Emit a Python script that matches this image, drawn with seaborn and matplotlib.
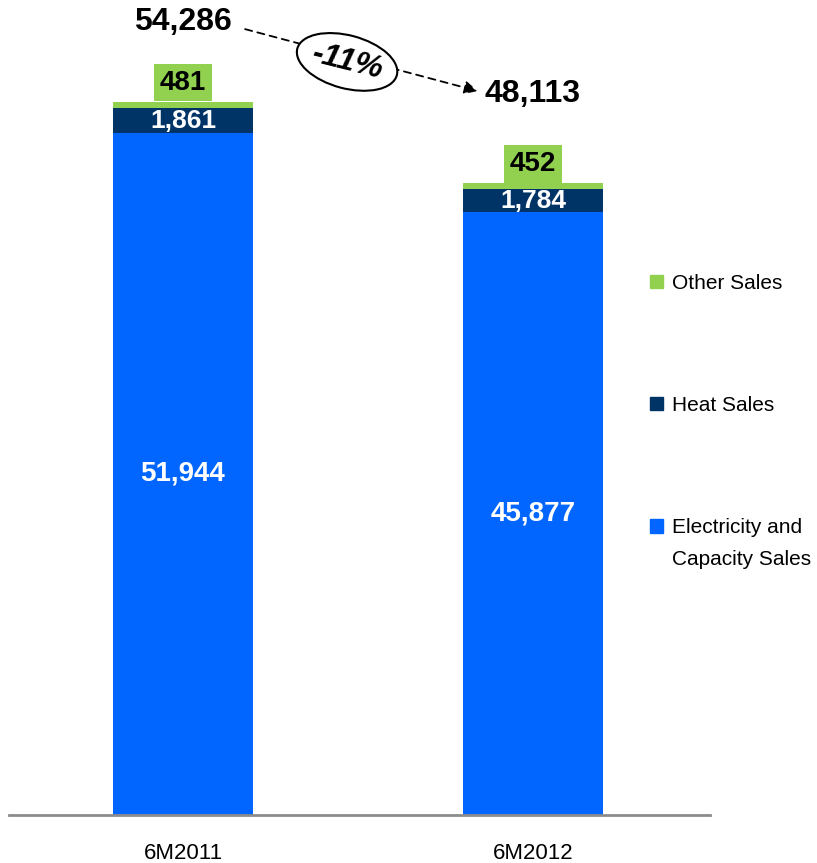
import matplotlib
matplotlib.use("Agg")
import matplotlib.pyplot as plt
import matplotlib.transforms as mtransforms
import seaborn as sns
import pandas as pd
from matplotlib.patches import Ellipse, Patch
from matplotlib import font_manager

# Data
periods = ["6M2011", "6M2012"]
electricity = [51944, 45877]
heat = [1861, 1784]
other = [481, 452]
series_names = ["Other Sales", "Heat Sales", "Electricity and", "Capacity Sales"]
colors = {"other": "#92D050", "heat": "#003366", "elec": "#0066FF"}

names = {f.name for f in font_manager.fontManager.ttflist}
fam = ["Liberation Sans Narrow", "Liberation Sans", "DejaVu Sans"]
fam = [f for f in fam if f in names] or ["DejaVu Sans"]

sns.set_style("white")
plt.rcParams["font.family"] = fam
plt.rcParams["text.color"] = "black"
plt.rcParams["xtick.color"] = "black"

df = pd.DataFrame({"period": periods, "elec": electricity, "heat": heat, "other": other})
df["elec_heat"] = df["elec"] + df["heat"]
df["total"] = df["elec_heat"] + df["other"]

fig = plt.figure(figsize=(8.17, 8.63), dpi=100)
ax = fig.add_axes([9 / 817, 1 - 815 / 863, 701 / 817, 815 / 863])

# stacked bars drawn as cumulative layers
for col, c in [("total", "other"), ("elec_heat", "heat"), ("elec", "elec")]:
    sns.barplot(data=df, x="period", y=col, color=colors[c], width=0.4, saturation=1,
                linewidth=0, ax=ax)

ax.set_xlim(-0.497, 1.506)
ax.set_ylim(0, 62050)
ax.set_xlabel("")
ax.set_ylabel("")
ax.set_yticks([])
for s in ["top", "right", "left"]:
    ax.spines[s].set_visible(False)
ax.spines["bottom"].set_color("#8c8c8c")
ax.spines["bottom"].set_linewidth(2)
ax.tick_params(axis="x", length=0, pad=20, labelsize=16)

for i, row in df.iterrows():
    ax.text(i, row["elec"] / 2, f"{row['elec']:,}", ha="center", va="center",
            color="white", fontsize=20, fontweight="bold")
    ax.text(i, row["elec"] + row["heat"] / 2, f"{row['heat']:,}", ha="center", va="center",
            color="white", fontsize=19, fontweight="bold")
    ax.text(i, row["total"] + 1450, f"{row['other']:,}", ha="center", va="center",
            color="black", fontsize=20, fontweight="bold",
            bbox=dict(boxstyle="square,pad=0.2", fc=colors["other"], ec="none"))

t0, t1 = df["total"]
ax.text(0, t0 + 6100, f"{t0:,}", ha="center", va="center", fontsize=23, fontweight="bold")
ax.text(1, t1 + 6800, f"{t1:,}", ha="center", va="center", fontsize=23, fontweight="bold")

# dashed arrow with the change in an ellipse
ax.annotate("", xy=(0.85, t1 + 6950), xytext=(0.17, t0 + 5600),
            arrowprops=dict(arrowstyle="-|>", linestyle=(0, (4, 3)), lw=1.3,
                            color="black", mutation_scale=20))
change = (t1 / t0 - 1) * 100
ex, ey = 0.469, t0 + 3050
etrans = fig.dpi_scale_trans + mtransforms.ScaledTranslation(ex, ey, ax.transData)
ax.add_patch(Ellipse((0, 0), 1.03, 0.53, angle=-15, fc="white", ec="black", lw=1.5,
                     transform=etrans, zorder=5))
ax.text(ex, ey, f"{change:.0f}%", ha="center", va="center", fontsize=23,
        fontweight="bold", fontstyle="italic", rotation=-14, zorder=6)

handles = [Patch(color=colors["other"]), Patch(color=colors["heat"]), Patch(color=colors["elec"])]
leg = fig.legend(handles, series_names[:3], loc="upper left",
                 bbox_to_anchor=(650 / 817, 1 - 274 / 863),
                 frameon=False, fontsize=15, labelspacing=4.95, handlelength=0.6,
                 handleheight=0.6, handletextpad=0.45, borderpad=0, borderaxespad=0)

# second line of the last legend label, set under the first
fig.canvas.draw()
bb = leg.get_texts()[2].get_window_extent()
x0, y0 = fig.transFigure.inverted().transform((bb.x0, bb.y0))
fig.text(x0, y0 - 32 / 863, series_names[3], ha="left", va="bottom", fontsize=15)

fig.savefig("out.png", dpi=100)
